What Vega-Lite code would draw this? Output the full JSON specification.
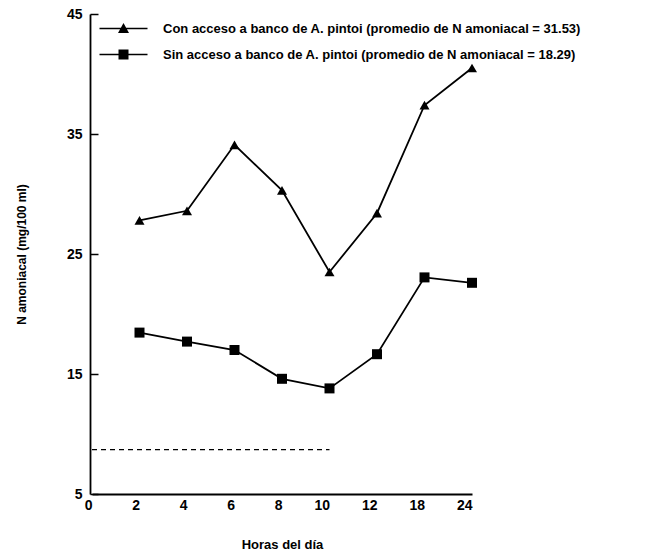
{
  "$schema": "https://vega.github.io/schema/vega-lite/v6.json",
  "autosize": "none",
  "width": 382,
  "height": 480,
  "padding": {"left": 90, "top": 14, "right": 194, "bottom": 62},
  "background": "white",
  "config": {
    "font": "Liberation Sans",
    "view": {"stroke": null},
    "axis": {"labelFont": "Liberation Sans", "titleFont": "Liberation Sans", "labelColor": "black", "titleColor": "black", "domainColor": "black", "tickColor": "black"},
    "legend": {"labelFont": "Liberation Sans"}
  },
  "datasets": {
    "obs": [
      {"hora": "2", "valor": 27.8, "serie": "Con acceso a banco de A. pintoi (promedio de N amoniacal = 31.53)"},
      {"hora": "4", "valor": 28.6, "serie": "Con acceso a banco de A. pintoi (promedio de N amoniacal = 31.53)"},
      {"hora": "6", "valor": 34.1, "serie": "Con acceso a banco de A. pintoi (promedio de N amoniacal = 31.53)"},
      {"hora": "8", "valor": 30.3, "serie": "Con acceso a banco de A. pintoi (promedio de N amoniacal = 31.53)"},
      {"hora": "10", "valor": 23.5, "serie": "Con acceso a banco de A. pintoi (promedio de N amoniacal = 31.53)"},
      {"hora": "12", "valor": 28.4, "serie": "Con acceso a banco de A. pintoi (promedio de N amoniacal = 31.53)"},
      {"hora": "18", "valor": 37.4, "serie": "Con acceso a banco de A. pintoi (promedio de N amoniacal = 31.53)"},
      {"hora": "24", "valor": 40.5, "serie": "Con acceso a banco de A. pintoi (promedio de N amoniacal = 31.53)"},
      {"hora": "2", "valor": 18.45, "serie": "Sin acceso a banco de A. pintoi (promedio de N amoniacal = 18.29)"},
      {"hora": "4", "valor": 17.7, "serie": "Sin acceso a banco de A. pintoi (promedio de N amoniacal = 18.29)"},
      {"hora": "6", "valor": 17.0, "serie": "Sin acceso a banco de A. pintoi (promedio de N amoniacal = 18.29)"},
      {"hora": "8", "valor": 14.6, "serie": "Sin acceso a banco de A. pintoi (promedio de N amoniacal = 18.29)"},
      {"hora": "10", "valor": 13.8, "serie": "Sin acceso a banco de A. pintoi (promedio de N amoniacal = 18.29)"},
      {"hora": "12", "valor": 16.65, "serie": "Sin acceso a banco de A. pintoi (promedio de N amoniacal = 18.29)"},
      {"hora": "18", "valor": 23.05, "serie": "Sin acceso a banco de A. pintoi (promedio de N amoniacal = 18.29)"},
      {"hora": "24", "valor": 22.6, "serie": "Sin acceso a banco de A. pintoi (promedio de N amoniacal = 18.29)"}
    ],
    "referencia": [{"hora": "0", "hora2": "10", "valor": 8.7}]
  },
  "layer": [
    {
      "data": {"name": "referencia"},
      "mark": {"type": "rule", "strokeDash": [5, 4], "strokeWidth": 1.2, "color": "black"},
      "encoding": {
        "x": {"field": "hora", "type": "ordinal"},
        "x2": {"field": "hora2"},
        "y": {"field": "valor", "type": "quantitative"}
      }
    },
    {
      "data": {"name": "obs"},
      "mark": {"type": "line", "color": "black", "strokeWidth": 1.8},
      "encoding": {
        "x": {
          "field": "hora", "type": "ordinal",
          "scale": {"type": "point", "domain": ["0", "2", "4", "6", "8", "10", "12", "18", "24"], "range": [2, 382], "padding": 0},
          "axis": {"title": "Horas del día", "labelAngle": 0, "ticks": false, "domainWidth": 1.8, "labelFontSize": 14, "labelFontWeight": "bold", "labelPadding": 11, "titleFontSize": 13, "titleFontWeight": "bold", "titlePadding": 26}
        },
        "y": {
          "field": "valor", "type": "quantitative",
          "scale": {"domain": [5, 45], "nice": false, "zero": false},
          "axis": {"title": "N amoniacal (mg/100 ml)", "values": [5, 15, 25, 35, 45], "grid": false, "domain": true, "domainWidth": 1.8, "tickSize": -8, "tickWidth": 1.5, "labelPadding": 16, "labelFontSize": 14, "labelFontWeight": "bold", "titleFontSize": 12, "titleFontWeight": "bold", "titlePadding": 38}
        },
        "detail": {"field": "serie", "type": "nominal"}
      }
    },
    {
      "data": {"name": "obs"},
      "transform": [{"filter": {"field": "serie", "equal": "Con acceso a banco de A. pintoi (promedio de N amoniacal = 31.53)"}}],
      "mark": {"type": "point", "shape": "triangle-up", "filled": true, "color": "black", "opacity": 1, "size": 100},
      "encoding": {
        "x": {"field": "hora", "type": "ordinal"},
        "y": {"field": "valor", "type": "quantitative"}
      }
    },
    {
      "data": {"name": "obs"},
      "transform": [{"filter": {"field": "serie", "equal": "Sin acceso a banco de A. pintoi (promedio de N amoniacal = 18.29)"}}],
      "mark": {"type": "point", "shape": "square", "filled": true, "color": "black", "opacity": 1, "size": 100},
      "encoding": {
        "x": {"field": "hora", "type": "ordinal"},
        "y": {"field": "valor", "type": "quantitative"}
      }
    },
    {
      "data": {"name": "obs"},
      "mark": {"type": "point", "filled": true, "color": "black", "opacity": 0},
      "encoding": {
        "x": {"field": "hora", "type": "ordinal"},
        "y": {"field": "valor", "type": "quantitative"},
        "shape": {
          "field": "serie", "type": "nominal",
          "scale": {"domain": ["Con acceso a banco de A. pintoi (promedio de N amoniacal = 31.53)", "Sin acceso a banco de A. pintoi (promedio de N amoniacal = 18.29)"], "range": ["M-4.8,-0.17H4.8V0.17H-4.8ZM0,-1.1L1.1,0.9L-1.1,0.9Z", "M-4.8,-0.17H4.8V0.17H-4.8ZM-1,-1H1V1H-1Z"]},
          "legend": {
            "orient": "none", "legendX": 27, "legendY": 8, "title": null,
            "labelFontSize": 13, "labelFontWeight": "bold", "labelColor": "black", "labelLimit": 0,
            "symbolSize": 100, "labelOffset": 33, "rowPadding": 10,
            "symbolOpacity": 1, "symbolFillColor": "black"
          }
        },
        "size": {"value": 100}
      }
    }
  ]
}
